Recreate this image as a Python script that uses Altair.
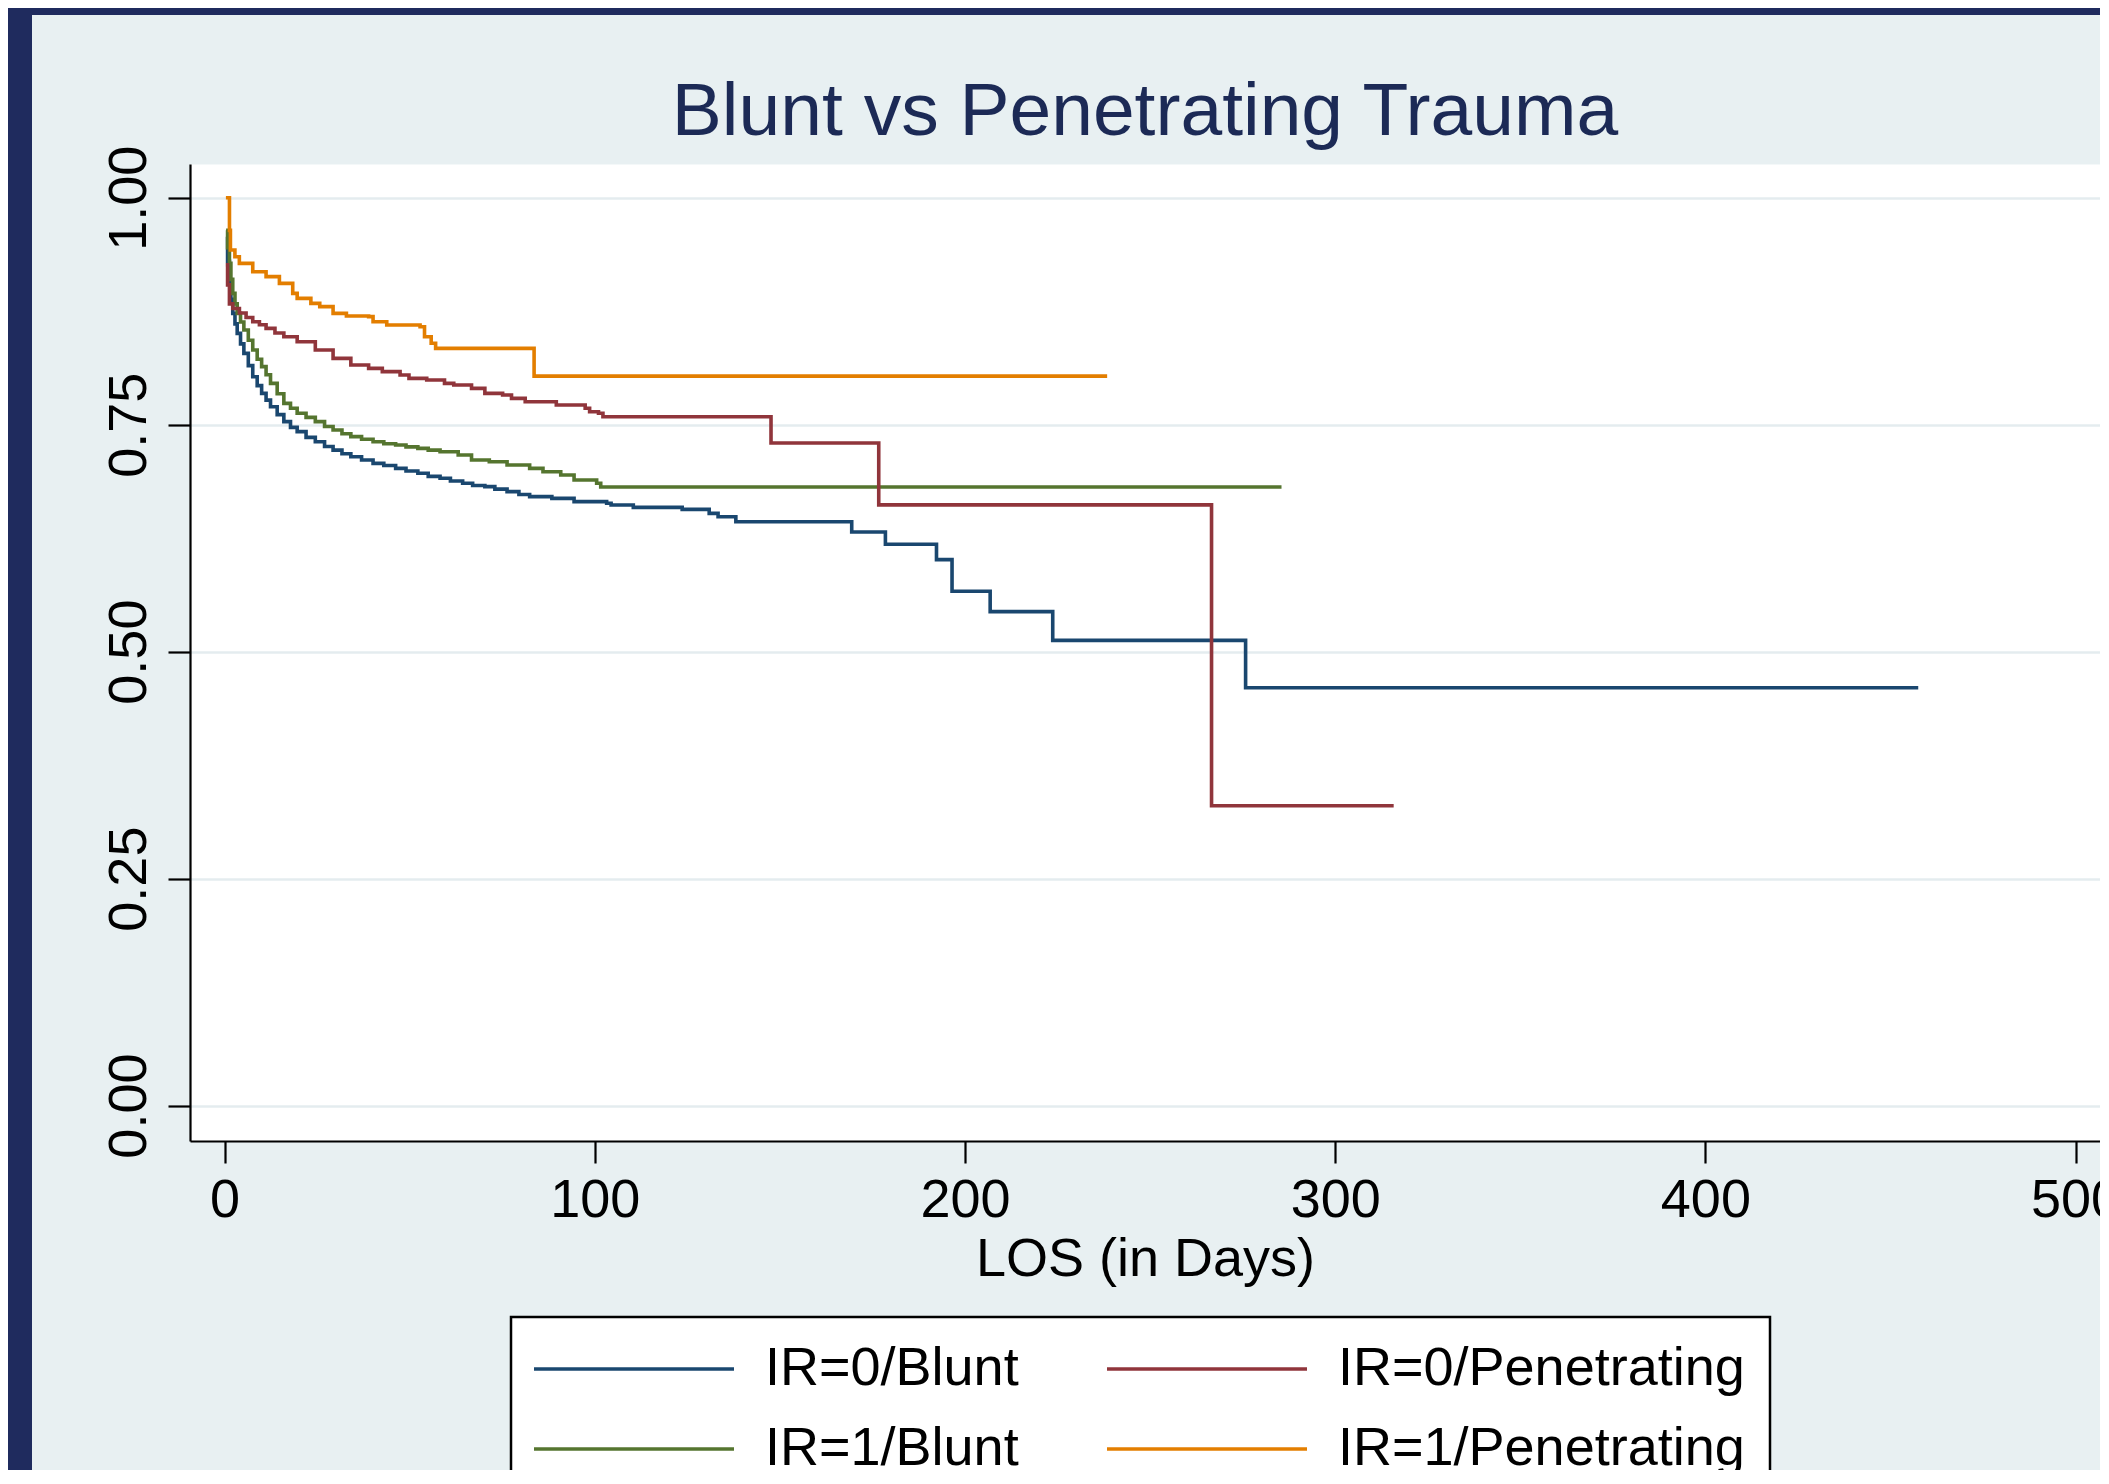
import altair as alt
import pandas as pd

# ---------------- data ----------------
# legend is laid out column by column, so the Blunt series come first
series_names = ["IR=0/Blunt", "IR=1/Blunt", "IR=0/Penetrating", "IR=1/Penetrating"]
series_colors = ["#1A476F", "#55752F", "#90353B", "#E37E00"]

x_ticks = [0, 100, 200, 300, 400, 500]
y_ticks = [0.0, 0.25, 0.5, 0.75, 1.0]

ir0_blunt_days = [0.4, 0.8, 1.3, 1.7, 2.2, 2.8, 3.4, 4.3, 5.2, 6.4, 7.6, 8.8, 10.0, 11.2,
                  12.4, 14.2, 16.0, 17.8, 19.6, 22.0, 24.5, 27.0, 29.3, 31.7, 34.1, 37.0,
                  40.1, 43.0, 46.2, 49.0, 52.2, 55.0, 58.2, 61.0, 64.3, 67.0, 70.3, 73.0,
                  76.3, 79.5, 82.4, 88.4, 94.4, 103.2, 104.4, 110.4, 123.6, 130.9, 133.3,
                  138.1, 169.4, 178.5, 192.3, 196.5, 206.8, 223.7, 275.8, 457.5]
ir0_blunt_surv = [0.957, 0.930, 0.9056, 0.888, 0.8726, 0.861, 0.8506, 0.839, 0.8285, 0.815,
                  0.8028, 0.793, 0.7845, 0.777, 0.7698, 0.761, 0.7533, 0.747, 0.7423,
                  0.736, 0.7312, 0.726, 0.722, 0.718, 0.7147, 0.711, 0.7074, 0.705, 0.7019,
                  0.699, 0.6964, 0.693, 0.6909, 0.688, 0.6854, 0.683, 0.6817, 0.679,
                  0.6762, 0.673, 0.6707, 0.6688, 0.6652, 0.6634, 0.6615, 0.6589, 0.6567,
                  0.6523, 0.6486, 0.6431, 0.6318, 0.6183, 0.6013, 0.5665, 0.5441, 0.5124,
                  0.4603, 0.4603]

ir1_blunt_days = [0.4, 0.8, 1.3, 1.7, 2.2, 2.8, 3.4, 4.3, 5.2, 6.4, 7.6, 8.8, 10.0, 11.2,
                  12.4, 14.2, 16.0, 17.8, 19.6, 22.0, 24.5, 27.0, 29.3, 31.7, 34.1, 37.0,
                  40.1, 43.0, 46.2, 49.0, 52.2, 55.0, 58.2, 63.1, 66.7, 71.5, 76.3, 82.4,
                  86.0, 90.8, 94.4, 100.5, 101.6, 285.5]
ir1_blunt_surv = [0.964, 0.945, 0.9277, 0.910, 0.8946, 0.883, 0.8726, 0.863, 0.8543, 0.843,
                  0.8322, 0.822, 0.8139, 0.805, 0.7955, 0.784, 0.7735, 0.768, 0.7625,
                  0.758, 0.7533, 0.748, 0.7441, 0.740, 0.7368, 0.734, 0.7312, 0.729,
                  0.7276, 0.7255, 0.7239, 0.722, 0.7202, 0.7166, 0.711, 0.7092, 0.7055,
                  0.7019, 0.6982, 0.6945, 0.689, 0.6854, 0.6814, 0.6814]

ir0_pen_days = [0.3, 0.8, 1.3, 2.2, 4.0, 5.8, 7.6, 9.4, 11.2, 13.6, 16.0, 19.6, 24.5, 29.3,
                34.1, 38.9, 42.6, 47.4, 49.8, 54.6, 59.4, 61.9, 66.7, 70.3, 75.1, 77.5,
                81.2, 89.6, 97.4, 98.6, 101.0, 102.2, 147.6, 176.7, 266.6, 315.8]
ir0_pen_surv = [0.926, 0.904, 0.883, 0.878, 0.873, 0.868, 0.8634, 0.860, 0.856, 0.851,
                0.8469, 0.8414, 0.8322, 0.823, 0.8157, 0.812, 0.8084, 0.8047, 0.801,
                0.7992, 0.7955, 0.7937, 0.79, 0.7845, 0.7827, 0.779, 0.7753, 0.7716,
                0.768, 0.7643, 0.7625, 0.7587, 0.7298, 0.6617, 0.3303, 0.3303]

ir1_pen_days = [0.35, 1.31, 1.57, 2.78, 3.98, 7.6, 11.2, 14.8, 18.4, 19.6, 23.3, 25.7,
                29.3, 32.9, 38.9, 40.1, 43.8, 52.8, 54.0, 55.8, 57.0, 83.6, 238.4]
ir1_pen_surv = [1.0, 0.964, 0.9424, 0.935, 0.9277, 0.9185, 0.913, 0.9056, 0.8946, 0.8891,
                0.8836, 0.88, 0.8726, 0.8697, 0.869, 0.8634, 0.8597, 0.8579, 0.8469,
                0.8396, 0.834, 0.8035, 0.8035]

series_days = [ir0_blunt_days, ir1_blunt_days, ir0_pen_days, ir1_pen_days]
series_surv = [ir0_blunt_surv, ir1_blunt_surv, ir0_pen_surv, ir1_pen_surv]

rows = []
for name, days, surv in zip(series_names, series_days, series_surv):
    for d, s in zip(days, surv):
        rows.append({"series": name, "t": d, "s": s})
df = pd.DataFrame(rows)

# ---------------- layout ----------------
W, H = 1910, 977
PAD = {"left": 182, "top": 156, "right": 0, "bottom": 329}
NAVY = "#1F2B5E"
FONT = "Liberation Sans"

lines = alt.Chart(df).mark_line(interpolate="step-after", strokeWidth=3.6).encode(
    x=alt.X(
        "t:Q",
        scale=alt.Scale(domain=[-9.35, 506.6], nice=False, zero=False),
        axis=alt.Axis(
            values=x_ticks, title="LOS (in Days)", grid=False, tickSize=22,
            labelPadding=53, labelBaseline="alphabetic", labelFlush=False,
            titleBaseline="alphabetic", titleY=134,
        ),
    ),
    y=alt.Y(
        "s:Q",
        scale=alt.Scale(domain=[-0.039, 1.0371], nice=False, zero=False),
        axis=alt.Axis(
            values=y_ticks, format=".2f", title=None, grid=True,
            gridColor="#E4ECEF", gridWidth=2.5, tickSize=22,
            labelAngle=270, labelAlign="center", labelBaseline="alphabetic",
            labelPadding=23,
        ),
    ),
    color=alt.Color(
        "series:N",
        scale=alt.Scale(domain=series_names, range=series_colors),
        legend=alt.Legend(
            title=None, orient="none", legendX=321, legendY=1153, columns=2,
            symbolType="M-4,0H4", symbolSize=2500, symbolStrokeWidth=3.5,
            symbolOffset=71, labelOffset=104,
            labelFontSize=54, labelLimit=700, columnPadding=81,
            rowPadding=26, padding=25, fillColor="white", strokeColor="black",
            labelColor="black",
        ),
    ),
)

strip_df = pd.DataFrame({"k": [0]})
left_strip = alt.Chart(strip_df).mark_rect(color=NAVY).encode(
    x=alt.value(-PAD["left"]), x2=alt.value(-PAD["left"] + 24),
    y=alt.value(-PAD["top"]), y2=alt.value(H + PAD["bottom"]),
)
top_strip = alt.Chart(strip_df).mark_rect(color=NAVY).encode(
    x=alt.value(-PAD["left"]), x2=alt.value(W),
    y=alt.value(-PAD["top"]), y2=alt.value(-PAD["top"] + 7),
)

chart = alt.layer(left_strip, top_strip, lines).properties(
    width=W, height=H, padding=PAD,
    autosize=alt.AutoSizeParams(type="none"),
    title=alt.TitleParams(
        "Blunt vs Penetrating Trauma", fontSize=75, fontWeight="normal",
        color="#1C2A56", font=FONT, anchor="middle", baseline="alphabetic",
        offset=-202,
    ),
).configure(
    background="#E8F0F2", font=FONT,
).configure_view(
    fill="white", stroke="transparent",
).configure_axis(
    domainColor="black", domainWidth=2.2, tickColor="black", tickWidth=2.2,
    labelColor="black", titleColor="black", labelFontSize=54, titleFontSize=54,
    titleFontWeight="normal", labelFont=FONT, titleFont=FONT,
).configure_legend(
    strokeWidth=2.5, labelFont=FONT,
)

chart.save("out.html", embed_options={"renderer": "svg", "actions": False})
